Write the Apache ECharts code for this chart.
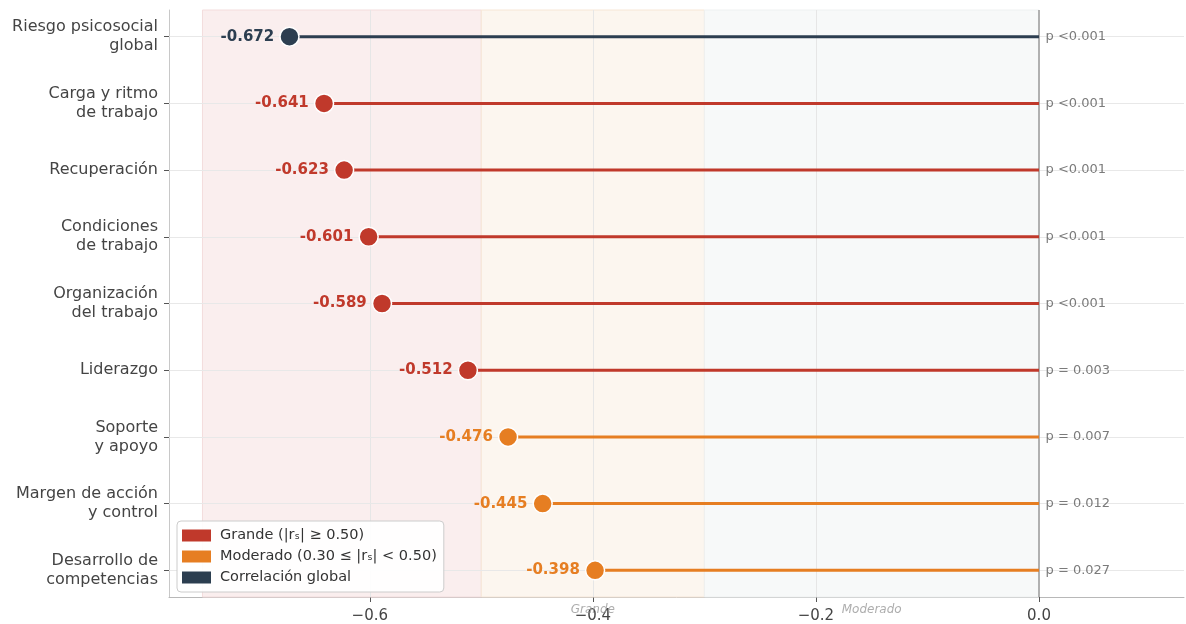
<!DOCTYPE html>
<html>
<head>
<meta charset="utf-8">
<script src="https://cdn.jsdelivr.net/npm/echarts@6/dist/echarts.min.js"></script>
<style>html,body{margin:0;padding:0;background:#fff}#c{width:1186px;height:624px}</style>
</head>
<body>
<div id="c"></div>
<script>
const categories = ['Riesgo psicosocial\nglobal', 'Carga y ritmo\nde trabajo', 'Recuperación', 'Condiciones\nde trabajo', 'Organización\ndel trabajo', 'Liderazgo', 'Soporte\ny apoyo', 'Margen de acción\ny control', 'Desarrollo de\ncompetencias'];
const values = [-0.672, -0.641, -0.623, -0.601, -0.589, -0.512, -0.476, -0.445, -0.398];
const groups = ['global', 'grande', 'grande', 'grande', 'grande', 'grande', 'moderado', 'moderado', 'moderado'];
const pLabels = ['p <0.001', 'p <0.001', 'p <0.001', 'p <0.001', 'p <0.001', 'p = 0.003', 'p = 0.007', 'p = 0.012', 'p = 0.027'];
const xTicks = [-0.6, -0.4, -0.2, 0.0];
const bands = [
  {from: -0.75, to: -0.5, name: 'grande'},
  {from: -0.5, to: -0.3, name: 'moderado'},
  {from: -0.3, to: 0, name: 'pequeno'}
];
const bandLabels = [{x: -0.4, text: 'Grande'}, {x: -0.15, text: 'Moderado'}];
const legendNames = {grande: 'Grande (|rₛ| ≥ 0.50)', moderado: 'Moderado (0.30 ≤ |rₛ| < 0.50)', global: 'Correlación global'};

const colors = {grande: '#c0392b', moderado: '#e67e22', global: '#2c3e50'};
const bandFill = {grande: '#faeeee', moderado: '#fcf6ef', pequeno: '#f7f9f9'};
const bandEdge = {grande: '#f3dcdc', moderado: '#f6e6d6', pequeno: '#eef1f1'};
const FONT = 'DejaVu Sans';

const chart = echarts.init(document.getElementById('c'));
const idx = categories.map((_, i) => i);

const option = {
  animation: false,
  textStyle: {fontFamily: FONT},
  grid: {left: 169, right: 2, top: 10, bottom: 25, containLabel: false},
  xAxis: {
    type: 'value', min: -0.78, max: 0.13,
    axisLine: {show: true, onZero: false, lineStyle: {color: '#b8b8b8', width: 1}},
    axisTick: {show: true, customValues: xTicks, length: 5, lineStyle: {color: '#555'}},
    axisLabel: {customValues: xTicks, fontSize: 15, color: '#444', margin: 12, fontFamily: FONT,
      formatter: v => (v < 0 ? '\u2212' : '') + Math.abs(v).toFixed(1)},
    splitLine: {show: false}
  },
  yAxis: {
    type: 'value', inverse: true, min: -0.4, max: 8.4,
    axisLine: {show: true, onZero: false, lineStyle: {color: '#c8c8c8', width: 1}},
    axisTick: {show: true, customValues: idx, length: 5, lineStyle: {color: '#555'}},
    axisLabel: {customValues: idx, fontSize: 16, color: '#444', margin: 11, lineHeight: 19, align: 'right', fontFamily: FONT,
      padding: [4, 0, 0, 0], formatter: v => categories[Math.round(v)]},
    splitLine: {show: false}
  },
  legend: {
    left: 177, top: 521, orient: 'vertical', icon: 'rect', itemWidth: 29, itemHeight: 12, itemGap: 6, z: 10,
    padding: [7, 7, 7, 5], backgroundColor: 'rgba(255,255,255,0.92)', borderColor: '#cccccc', borderWidth: 1, borderRadius: 4,
    textStyle: {fontSize: 14.5, color: '#333', fontFamily: FONT, padding: [0, 0, 0, 4]},
    data: [legendNames.grande, legendNames.moderado, legendNames.global]
  },
  series: [
    {
      type: 'scatter', name: 'bands', data: [], z: 1, silent: true,
      markArea: {
        silent: true, z: 1,
        data: bands.map(b => [{xAxis: b.from, itemStyle: {color: bandFill[b.name], borderColor: bandEdge[b.name], borderWidth: 1}}, {xAxis: b.to}])
      },
      markLine: {
        silent: true, symbol: 'none', label: {show: false}, z: 2,
        data: [
          ...xTicks.slice(0, 3).map(t => ({xAxis: t, lineStyle: {color: '#e6e6e6', width: 1, type: 'solid'}})),
          ...idx.map(i => ({yAxis: i, lineStyle: {color: '#e8e8e8', width: 1, type: 'solid'}})),
          {xAxis: 0, lineStyle: {color: '#9a9a9a', width: 1.5, type: 'solid'}}
        ]
      }
    },
    {
      type: 'custom', name: 'stems', z: 3, silent: true,
      data: values.map((v, i) => [v, i]),
      renderItem: (params, api) => {
        const i = api.value(1);
        const p0 = api.coord([api.value(0), i]);
        const p1 = api.coord([0, i]);
        return {type: 'rect', shape: {x: p0[0], y: p0[1] - 1.5, width: p1[0] - p0[0], height: 3},
          style: {fill: colors[groups[params.dataIndex]], stroke: null}};
      }
    },
    {
      type: 'scatter', name: 'dots', z: 5, symbolSize: 19,
      data: values.map((v, i) => ({value: [v, i], itemStyle: {color: colors[groups[i]], borderColor: '#fff', borderWidth: 1.5, opacity: 1},
        label: {color: colors[groups[i]]}})),
      label: {show: true, position: 'left', distance: 5, fontSize: 15, fontWeight: 'bold', fontFamily: FONT,
        formatter: p => p.value[0].toFixed(3)}
    },
    {
      type: 'scatter', name: 'pvals', z: 5, symbolSize: 1, itemStyle: {color: 'rgba(0,0,0,0)'},
      data: pLabels.map((t, i) => ({value: [0, i], name: t})),
      label: {show: true, position: 'right', distance: 6, fontSize: 13, color: '#5a5a5a', fontFamily: FONT, formatter: p => p.name}
    },
    {
      type: 'scatter', name: 'bandLabels', z: 6, symbolSize: 1, clip: false, itemStyle: {color: 'rgba(0,0,0,0)'},
      data: bandLabels.map(b => ({value: [b.x, 8.6], name: b.text})),
      label: {show: true, position: 'inside', fontSize: 12, fontStyle: 'italic', color: '#999', fontFamily: FONT, formatter: p => p.name}
    },
    {type: 'scatter', name: legendNames.grande, data: [], itemStyle: {color: colors.grande, opacity: 1}},
    {type: 'scatter', name: legendNames.moderado, data: [], itemStyle: {color: colors.moderado, opacity: 1}},
    {type: 'scatter', name: legendNames.global, data: [], itemStyle: {color: colors.global, opacity: 1}}
  ]
};
chart.setOption(option);
</script>
</body>
</html>
